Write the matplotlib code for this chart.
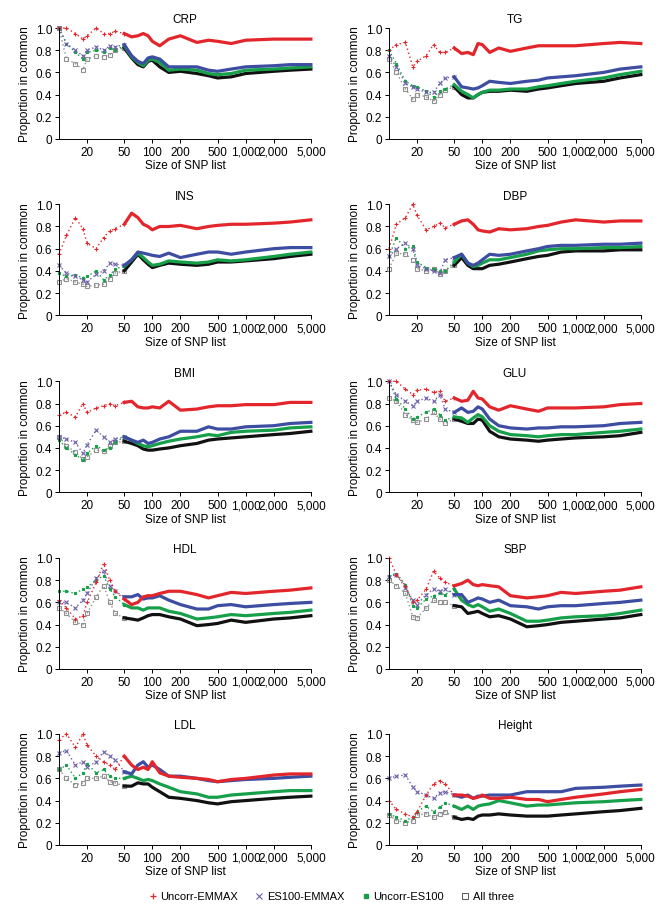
import numpy as np
import matplotlib
matplotlib.use("Agg")
import matplotlib.pyplot as plt
from matplotlib.lines import Line2D

plt.rcParams['font.family'] = ['Liberation Sans', 'DejaVu Sans']
plt.rcParams['font.size'] = 8

sizes = [10, 12, 15, 18, 20, 25, 30, 35, 40, 50, 60, 70, 80, 90, 100,
         120, 150, 200, 300, 400, 500, 700, 1000, 2000, 3000, 5000]

series_names = ['Uncorr-EMMAX', 'ES100-EMMAX', 'Uncorr-ES100', 'All three']
xtick_vals = [20, 50, 100, 200, 500, 1000, 2000, 5000]
xtick_labels = ['20', '50', '100', '200', '500', '1,000', '2,000', '5,000']

# CRP
crp_ue = [1.0, 1.0, 0.95, 0.9, 0.93, 1.0, 0.95, 0.95, 0.97, 0.95, 0.92, 0.93, 0.95, 0.93, 0.88, 0.84, 0.9, 0.93, 0.87, 0.89, 0.88, 0.86, 0.89, 0.9, 0.9, 0.9]
crp_ee = [1.0, 0.86, 0.8, 0.75, 0.8, 0.83, 0.8, 0.84, 0.83, 0.85, 0.75, 0.7, 0.68, 0.73, 0.74, 0.72, 0.65, 0.65, 0.65, 0.62, 0.61, 0.63, 0.65, 0.66, 0.67, 0.67]
crp_ues = [1.0, 0.86, 0.78, 0.72, 0.78, 0.8, 0.78, 0.82, 0.8, 0.84, 0.74, 0.69, 0.66, 0.71, 0.72, 0.69, 0.62, 0.63, 0.62, 0.59, 0.58, 0.59, 0.62, 0.63, 0.64, 0.65]
crp_all = [1.0, 0.72, 0.68, 0.62, 0.72, 0.75, 0.74, 0.76, 0.8, 0.82, 0.73, 0.67, 0.65, 0.7, 0.71, 0.65, 0.6, 0.61, 0.59, 0.57, 0.55, 0.56, 0.59, 0.61, 0.62, 0.63]

# TG
tg_ue = [0.8, 0.85, 0.87, 0.65, 0.7, 0.75, 0.85, 0.78, 0.78, 0.82, 0.77, 0.78, 0.76, 0.86, 0.85, 0.78, 0.82, 0.79, 0.82, 0.84, 0.84, 0.84, 0.84, 0.86, 0.87, 0.86]
tg_ee = [0.75, 0.65, 0.5, 0.47, 0.45, 0.42, 0.42, 0.5, 0.55, 0.56, 0.47, 0.46, 0.45, 0.46, 0.48, 0.52, 0.51, 0.5, 0.52, 0.53, 0.55, 0.56, 0.57, 0.6, 0.63, 0.65]
tg_ues = [0.8, 0.68, 0.52, 0.48, 0.47, 0.43, 0.38, 0.43, 0.45, 0.49, 0.43, 0.4, 0.37, 0.4, 0.42, 0.44, 0.44, 0.45, 0.45, 0.47, 0.48, 0.5, 0.52, 0.55, 0.58, 0.61]
tg_all = [0.72, 0.6, 0.45, 0.36, 0.4, 0.38, 0.34, 0.4, 0.44, 0.47, 0.4, 0.37, 0.37, 0.4, 0.42, 0.43, 0.43, 0.44, 0.43, 0.45, 0.46, 0.48, 0.5, 0.52, 0.55, 0.58]

# INS
ins_ue = [0.55, 0.72, 0.88, 0.78, 0.65, 0.6, 0.7, 0.76, 0.78, 0.82, 0.92, 0.88, 0.82, 0.8, 0.77, 0.8, 0.8, 0.81, 0.78, 0.8, 0.81, 0.82, 0.82, 0.83, 0.84, 0.86]
ins_ee = [0.45, 0.38, 0.35, 0.32, 0.3, 0.37, 0.4, 0.47, 0.46, 0.45, 0.5, 0.57, 0.56, 0.55, 0.54, 0.53, 0.56, 0.52, 0.55, 0.57, 0.57, 0.55, 0.57, 0.6, 0.61, 0.61]
ins_ues = [0.38, 0.35, 0.36, 0.34, 0.35, 0.4, 0.32, 0.36, 0.42, 0.44, 0.5, 0.56, 0.52, 0.48, 0.45, 0.46, 0.49, 0.48, 0.47, 0.48, 0.5, 0.49, 0.5, 0.53, 0.55, 0.57]
ins_all = [0.3, 0.33, 0.3, 0.28, 0.26, 0.27, 0.28, 0.33, 0.38, 0.4, 0.48, 0.55, 0.5, 0.46, 0.43, 0.45, 0.47, 0.46, 0.45, 0.46, 0.48, 0.48, 0.49, 0.51, 0.53, 0.55]

# DBP
dbp_ue = [0.6, 0.82, 0.88, 1.0, 0.9, 0.77, 0.8, 0.83, 0.79, 0.82, 0.85, 0.86, 0.82, 0.77, 0.76, 0.75, 0.78, 0.77, 0.78, 0.8, 0.81, 0.84, 0.86, 0.84, 0.85, 0.85]
dbp_ee = [0.53, 0.6, 0.65, 0.6, 0.45, 0.42, 0.4, 0.38, 0.5, 0.52, 0.55, 0.47, 0.45, 0.47, 0.5, 0.55, 0.54, 0.55, 0.58, 0.6, 0.62, 0.63, 0.63, 0.64, 0.64, 0.65]
dbp_ues = [0.53, 0.7, 0.6, 0.62, 0.48, 0.43, 0.42, 0.4, 0.4, 0.48, 0.55, 0.47, 0.44, 0.45, 0.47, 0.5, 0.5, 0.52, 0.55, 0.58, 0.59, 0.6, 0.6, 0.61, 0.61, 0.62]
dbp_all = [0.42, 0.56, 0.55, 0.5, 0.42, 0.4, 0.42, 0.37, 0.4, 0.45, 0.52, 0.45, 0.42, 0.42, 0.42, 0.45, 0.46, 0.48, 0.51, 0.53, 0.54, 0.57, 0.58, 0.58, 0.59, 0.59]

# BMI
bmi_ue = [0.7, 0.72, 0.68, 0.8, 0.72, 0.76, 0.78, 0.8, 0.78, 0.81, 0.82, 0.77, 0.76, 0.76, 0.77, 0.76, 0.82, 0.74, 0.75, 0.77, 0.78, 0.78, 0.79, 0.79, 0.81, 0.81]
bmi_ee = [0.5, 0.48, 0.45, 0.35, 0.43, 0.56, 0.5, 0.45, 0.48, 0.5, 0.47, 0.45, 0.47, 0.44, 0.45, 0.48, 0.5, 0.55, 0.55, 0.59, 0.57, 0.57, 0.59, 0.6, 0.62, 0.63]
bmi_ues = [0.47, 0.4, 0.34, 0.29, 0.35, 0.42, 0.38, 0.4, 0.45, 0.5, 0.47, 0.44, 0.42, 0.41, 0.42, 0.44, 0.46, 0.48, 0.5, 0.52, 0.51, 0.54, 0.55, 0.56, 0.58, 0.59]
bmi_all = [0.5, 0.42, 0.36, 0.3, 0.32, 0.38, 0.37, 0.42, 0.45, 0.46, 0.44, 0.42, 0.39, 0.38, 0.38, 0.39, 0.4, 0.42, 0.44, 0.47, 0.48, 0.49, 0.5, 0.52, 0.53, 0.55]

# GLU
glu_ue = [1.0, 1.0, 0.93, 0.88, 0.92, 0.93, 0.9, 0.91, 0.82, 0.85, 0.82, 0.83, 0.91, 0.85, 0.84, 0.77, 0.74, 0.78, 0.75, 0.73, 0.76, 0.76, 0.76, 0.77, 0.79, 0.8]
glu_ee = [1.0, 0.88, 0.82, 0.78, 0.82, 0.85, 0.82, 0.88, 0.75, 0.72, 0.76, 0.72, 0.73, 0.77, 0.75, 0.66, 0.6, 0.58, 0.57, 0.58, 0.58, 0.59, 0.59, 0.6, 0.62, 0.63]
glu_ues = [1.0, 0.84, 0.75, 0.66, 0.68, 0.72, 0.75, 0.7, 0.65, 0.68, 0.67, 0.63, 0.67, 0.7, 0.68, 0.6, 0.55, 0.52, 0.51, 0.5, 0.51, 0.52, 0.52, 0.54, 0.55, 0.57]
glu_all = [0.85, 0.82, 0.7, 0.65, 0.63, 0.66, 0.72, 0.66, 0.62, 0.66, 0.64, 0.62, 0.62, 0.66, 0.65, 0.55, 0.5, 0.48, 0.47, 0.46, 0.47, 0.48, 0.49, 0.5, 0.51, 0.54]

# HDL
hdl_ue = [0.62, 0.55, 0.45, 0.48, 0.6, 0.78, 0.95, 0.8, 0.7, 0.63, 0.58, 0.6, 0.65, 0.66, 0.66, 0.68, 0.7, 0.7, 0.67, 0.64, 0.66, 0.69, 0.68, 0.7, 0.71, 0.73]
hdl_ee = [0.6, 0.6, 0.55, 0.62, 0.68, 0.82, 0.88, 0.75, 0.7, 0.65, 0.65, 0.67, 0.63, 0.64, 0.64, 0.66, 0.62, 0.58, 0.54, 0.54, 0.57, 0.58, 0.56, 0.58, 0.59, 0.6]
hdl_ues = [0.7, 0.7, 0.68, 0.72, 0.74, 0.8, 0.84, 0.72, 0.65, 0.58, 0.55, 0.55, 0.53, 0.55, 0.55, 0.55, 0.52, 0.5, 0.45, 0.46, 0.47, 0.49, 0.48, 0.5, 0.51, 0.53]
hdl_all = [0.55, 0.5, 0.42, 0.4, 0.5, 0.65, 0.75, 0.6, 0.5, 0.46, 0.45, 0.44, 0.46, 0.48, 0.49, 0.49, 0.47, 0.45, 0.39, 0.4, 0.41, 0.44, 0.42, 0.45, 0.46, 0.48]

# SBP
sbp_ue = [1.0, 0.85, 0.75, 0.6, 0.62, 0.72, 0.88, 0.82, 0.78, 0.75, 0.77, 0.8, 0.76, 0.75, 0.76, 0.75, 0.74, 0.66, 0.64, 0.65, 0.66, 0.69, 0.68, 0.7, 0.71, 0.74]
sbp_ee = [0.83, 0.85, 0.73, 0.62, 0.58, 0.67, 0.72, 0.7, 0.72, 0.67, 0.67, 0.6, 0.62, 0.64, 0.63, 0.6, 0.62, 0.57, 0.56, 0.54, 0.56, 0.57, 0.57, 0.59, 0.6, 0.62]
sbp_ues = [0.84, 0.86, 0.76, 0.57, 0.55, 0.63, 0.66, 0.68, 0.67, 0.72, 0.62, 0.58, 0.56, 0.58, 0.56, 0.52, 0.54, 0.5, 0.43, 0.43, 0.44, 0.46, 0.47, 0.48, 0.5, 0.53]
sbp_all = [0.8, 0.75, 0.68, 0.47, 0.46, 0.55, 0.62, 0.6, 0.6, 0.57, 0.56, 0.5, 0.51, 0.52, 0.5, 0.47, 0.48, 0.45, 0.38, 0.39, 0.4, 0.42, 0.43, 0.45, 0.46, 0.49]

# LDL
ldl_ue = [0.95, 1.0, 0.88, 1.0, 0.9, 0.8, 0.75, 0.72, 0.68, 0.8, 0.72, 0.68, 0.7, 0.68, 0.75, 0.65, 0.62, 0.61, 0.6, 0.59, 0.57, 0.59, 0.6, 0.63, 0.64, 0.64]
ldl_ee = [0.83, 0.85, 0.72, 0.75, 0.7, 0.75, 0.84, 0.8, 0.77, 0.66, 0.64, 0.72, 0.75, 0.7, 0.72, 0.68, 0.62, 0.62, 0.6, 0.58, 0.57, 0.58, 0.59, 0.6, 0.61, 0.62]
ldl_ues = [0.68, 0.72, 0.6, 0.65, 0.73, 0.65, 0.68, 0.62, 0.6, 0.6, 0.62, 0.6, 0.58, 0.59, 0.58, 0.55, 0.52, 0.48, 0.46, 0.43, 0.43, 0.45, 0.46, 0.48, 0.49, 0.49]
ldl_all = [0.68, 0.6, 0.54, 0.56, 0.6, 0.6, 0.62, 0.57, 0.56, 0.53, 0.53, 0.56, 0.55, 0.55, 0.52, 0.48, 0.43, 0.42, 0.4, 0.38, 0.37, 0.39, 0.4, 0.42, 0.43, 0.44]

# Height
height_ue = [0.4, 0.32, 0.28, 0.25, 0.3, 0.45, 0.55, 0.58, 0.55, 0.45, 0.45, 0.44, 0.42, 0.43, 0.45, 0.42, 0.42, 0.43, 0.41, 0.41, 0.39, 0.41, 0.43, 0.46, 0.48, 0.5]
height_ee = [0.6, 0.62, 0.63, 0.52, 0.48, 0.45, 0.42, 0.47, 0.48, 0.45, 0.43, 0.45, 0.42, 0.44, 0.44, 0.45, 0.45, 0.45, 0.48, 0.48, 0.48, 0.48, 0.51, 0.52, 0.53, 0.54]
height_ues = [0.28, 0.25, 0.22, 0.25, 0.3, 0.35, 0.3, 0.34, 0.38, 0.35, 0.32, 0.35, 0.32, 0.35, 0.36, 0.37, 0.4, 0.38, 0.35, 0.36, 0.36, 0.37, 0.38, 0.39, 0.4, 0.41]
height_all = [0.27, 0.22, 0.2, 0.22, 0.27, 0.28, 0.25, 0.28, 0.3, 0.25, 0.23, 0.24, 0.23, 0.26, 0.27, 0.27, 0.28, 0.27, 0.26, 0.26, 0.26, 0.27, 0.28, 0.3, 0.31, 0.33]

panels = [
    ('CRP', [crp_ue, crp_ee, crp_ues, crp_all]),
    ('TG', [tg_ue, tg_ee, tg_ues, tg_all]),
    ('INS', [ins_ue, ins_ee, ins_ues, ins_all]),
    ('DBP', [dbp_ue, dbp_ee, dbp_ues, dbp_all]),
    ('BMI', [bmi_ue, bmi_ee, bmi_ues, bmi_all]),
    ('GLU', [glu_ue, glu_ee, glu_ues, glu_all]),
    ('HDL', [hdl_ue, hdl_ee, hdl_ues, hdl_all]),
    ('SBP', [sbp_ue, sbp_ee, sbp_ues, sbp_all]),
    ('LDL', [ldl_ue, ldl_ee, ldl_ues, ldl_all]),
    ('Height', [height_ue, height_ee, height_ues, height_all]),
]

# line colour, low-N marker colour, marker, marker size, marker face
styles = [
    ('#e3262b', '#e3262b', '+', 3.0, '#e3262b'),
    ('#3d4da2', '#6a5fa8', 'x', 2.5, '#6a5fa8'),
    ('#16a04a', '#16a04a', 's', 1.8, '#16a04a'),
    ('#111111', '#909090', 's', 2.2, 'none'),
]
draw_order = [3, 2, 1, 0]

fig = plt.figure(figsize=(6.61, 9.12), dpi=100)

lefts = [0.0893, 0.5885]
bottoms = [0.8465, 0.6532, 0.4591, 0.2654, 0.0724]
w, h = 0.381, 0.1217

x = np.array(sizes)
split = sizes.index(50)

for k, (title, vals) in enumerate(panels):
    ax = fig.add_axes([lefts[k % 2], bottoms[k // 2], w, h])
    for i in draw_order:
        y = np.array(vals[i])
        lc, mc, mk, ms, mf = styles[i]
        # sparse, scattered region for short lists
        ax.plot(x[:split + 1], y[:split + 1], color=mc, lw=1.0,
                ls=(0, (1, 2)), marker=mk, ms=ms, mec=mc, mfc=mf,
                mew=0.8, clip_on=False, zorder=2)
        # dense region merges into a thick line
        ax.plot(x[split:], y[split:], color=lc, lw=2.3,
                solid_joinstyle='round', clip_on=False, zorder=3)
    ax.set_xscale('log')
    ax.set_xlim(10, 5000)
    ax.set_ylim(0, 1.0)
    ax.set_xticks(xtick_vals)
    ax.set_xticklabels(xtick_labels)
    ax.xaxis.set_minor_locator(matplotlib.ticker.NullLocator())
    ax.set_yticks([0, 0.2, 0.4, 0.6, 0.8, 1.0])
    ax.set_yticklabels(['0', '0.2', '0.4', '0.6', '0.8', '1.0'])
    ax.spines['top'].set_visible(False)
    ax.spines['right'].set_visible(False)
    ax.spines['left'].set_linewidth(0.7)
    ax.spines['bottom'].set_linewidth(0.7)
    ax.tick_params(direction='out', length=3, width=0.7, labelsize=8.5, pad=2)
    ax.set_title(title, fontsize=8.5, pad=4)
    ax.set_xlabel('Size of SNP list', fontsize=8.5, labelpad=1)
    ax.set_ylabel('Proportion in common', fontsize=8.5, labelpad=3)

handles = [
    Line2D([], [], ls='none', marker='+', color='#e3262b', ms=5, mew=0.9),
    Line2D([], [], ls='none', marker='x', color='#6a5fa8', ms=4, mew=0.8),
    Line2D([], [], ls='none', marker='s', color='#16a04a', ms=3),
    Line2D([], [], ls='none', marker='s', mec='#555555', mfc='none', ms=4, mew=0.7),
]
fig.legend(handles, series_names, loc='center', bbox_to_anchor=(0.5, 0.016),
           ncol=4, frameon=False, fontsize=8, handletextpad=0.2,
           columnspacing=1.4, handlelength=1.0)

fig.savefig('out.png', dpi=100)
